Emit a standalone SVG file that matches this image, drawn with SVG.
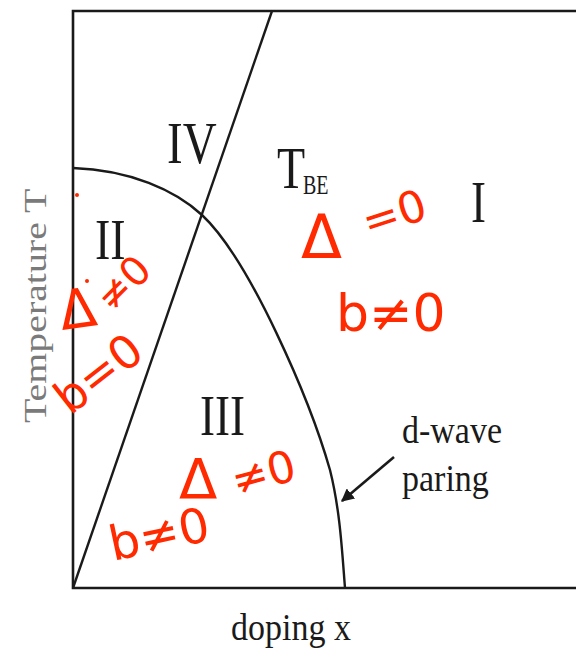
<svg xmlns="http://www.w3.org/2000/svg" width="576" height="649" viewBox="0 0 576 649">
<style>
.ax{stroke:#1a1a1a;stroke-width:2.6;fill:none}
.ln{stroke:#1a1a1a;stroke-width:2.4;fill:none}
.lbl{font-family:"Liberation Serif","Times New Roman",serif;fill:#1a1a1a}
.ylab{font-family:"Liberation Serif","Times New Roman",serif;fill:#7a7a7a}
.ink{font-family:"DejaVu Sans","Liberation Sans",sans-serif;fill:#ff2a00}
</style>
<defs>
<marker id="ah" viewBox="0 0 10 10" refX="9" refY="5" markerWidth="5" markerHeight="5" orient="auto" markerUnits="strokeWidth">
<path d="M0,0 L10,5 L0,10 z" fill="#1a1a1a"/>
</marker>
</defs>
<rect width="576" height="649" fill="#fff"/>
<g id="axes">
<path class="ax" d="M576,11 L73,11 L73,588 L576,588"/>
</g>
<g id="connectors">
<path id="line-straight" class="ln" d="M73,588 L272,11"/>
<path id="line-curve" class="ln" d="M73,168 C130,170 175,190 202,215 C250,260 310,400 330,470 C340,510 342,550 345,588"/>
<path id="arrow-dwave" stroke="#1a1a1a" stroke-width="2.6" fill="none" marker-end="url(#ah)" d="M394,457 L342,501"/>
</g>
<g id="region-IV"><text class="lbl" font-size="47" transform="translate(167,163) scale(1,1.28)">IV</text></g>
<g id="region-II"><text class="lbl" font-size="46" transform="translate(95,259) scale(1,1.22)">II</text></g>
<g id="region-III"><text class="lbl" font-size="45" transform="translate(200,435) scale(1,1.25)">III</text></g>
<g id="region-I"><text class="lbl" font-size="45" transform="translate(471,222) scale(1,1.3)">I</text></g>
<g id="label-TBE">
<text class="lbl" font-size="46" transform="translate(277,188) scale(1,1.28)">T</text>
<text class="lbl" font-size="20" transform="translate(303,194) scale(1,1.35)">BE</text>
</g>
<g id="label-dwave">
<text class="lbl" font-size="34" transform="translate(402,443) scale(1,1.12)">d-wave</text>
<text class="lbl" font-size="34" transform="translate(402,491) scale(1,1.12)">paring</text>
</g>
<g id="axis-x"><text class="lbl" font-size="34" transform="translate(231,640) scale(1,1.12)">doping x</text></g>
<g id="axis-y"><text class="ylab" font-size="32" transform="translate(46,423) rotate(-90) scale(1.246,1)">Temperature T</text></g>
<g id="ink-I">
<text class="ink" font-size="60" x="301" y="258">Δ</text>
<text class="ink" font-size="44" transform="translate(368,238) rotate(-18)">=0</text>
<text class="ink" font-size="52" x="336" y="331">b≠0</text>
</g>
<g id="ink-II">
<text class="ink" font-size="54" transform="translate(62,330) rotate(-8)">Δ</text>
<text class="ink" font-size="40" transform="translate(112,314) rotate(-45)">≠0</text>
<text class="ink" font-size="46" transform="translate(70,416) rotate(-38)">b=0</text>
<circle cx="87" cy="281" r="2" fill="#ff2a00"/>
<circle cx="77" cy="195" r="2" fill="#ff2a00"/>
</g>
<g id="ink-III">
<text class="ink" font-size="56" x="179" y="498">Δ</text>
<text class="ink" font-size="44" transform="translate(236,496) rotate(-15)">≠0</text>
<text class="ink" font-size="48" transform="translate(113,561) rotate(-12)">b≠0</text>
</g>
</svg>
